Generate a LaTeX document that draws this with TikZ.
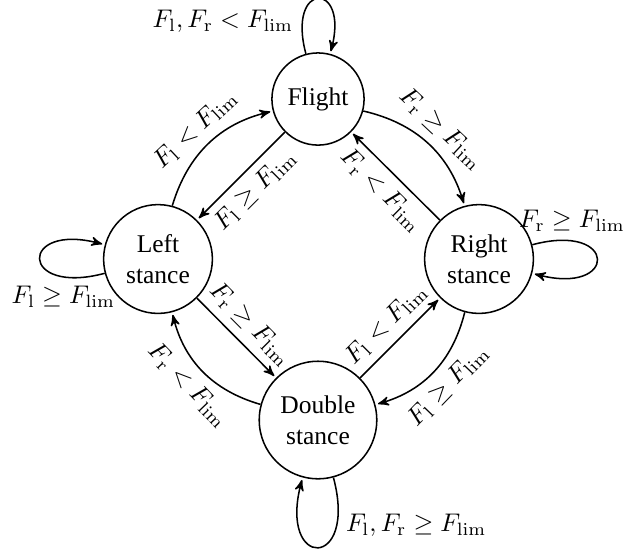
\documentclass[tikz,border=0pt]{standalone}
\usepackage[no-math]{fontspec}
\setmainfont{Liberation Serif}
\usetikzlibrary{arrows}
\begin{document}
\begin{tikzpicture}[x=0.392pt,y=-0.392pt,>=stealth',semithick,shorten >=1pt,
  state/.style={circle,draw,align=center,inner sep=4pt},
  tr/.style={->}]
\useasboundingbox (0,0) rectangle (641,553);
\node[state] (F) at (318,99) {Flight};
\node[state] (L) at (158,259) {Left\\stance};
\node[state] (R) at (479,259) {Right\\stance};
\node[state] (D) at (318,420) {Double\\stance};

\path[tr]
  (F) edge[loop above] node[left,pos=0.18] {$F_\mathrm{l}, F_\mathrm{r} < F_\mathrm{lim}$} (F)
  (L) edge[loop left] node[below,pos=0.2] {$F_\mathrm{l} \geq F_\mathrm{lim}$} (L)
  (R) edge[loop right] node[above,pos=0.19] {$F_\mathrm{r} \geq F_\mathrm{lim}$} (R)
  (D) edge[loop below] node[right,pos=0.22] {$F_\mathrm{l}, F_\mathrm{r} \geq F_\mathrm{lim}$} (D)
  (L) edge[bend left] node[sloped,above] {$F_\mathrm{l} < F_\mathrm{lim}$} (F)
  (F) edge node[sloped,below] {$F_\mathrm{l} \geq F_\mathrm{lim}$} (L)
  (F) edge[bend left] node[sloped,above] {$F_\mathrm{r} \geq F_\mathrm{lim}$} (R)
  (R) edge node[sloped,below] {$F_\mathrm{r} < F_\mathrm{lim}$} (F)
  (L) edge node[sloped,above] {$F_\mathrm{r} \geq F_\mathrm{lim}$} (D)
  (D) edge[bend left] node[sloped,below] {$F_\mathrm{r} < F_\mathrm{lim}$} (L)
  (D) edge node[sloped,above] {$F_\mathrm{l} < F_\mathrm{lim}$} (R)
  (R) edge[bend left] node[sloped,below] {$F_\mathrm{l} \geq F_\mathrm{lim}$} (D);
\end{tikzpicture}
\end{document}
